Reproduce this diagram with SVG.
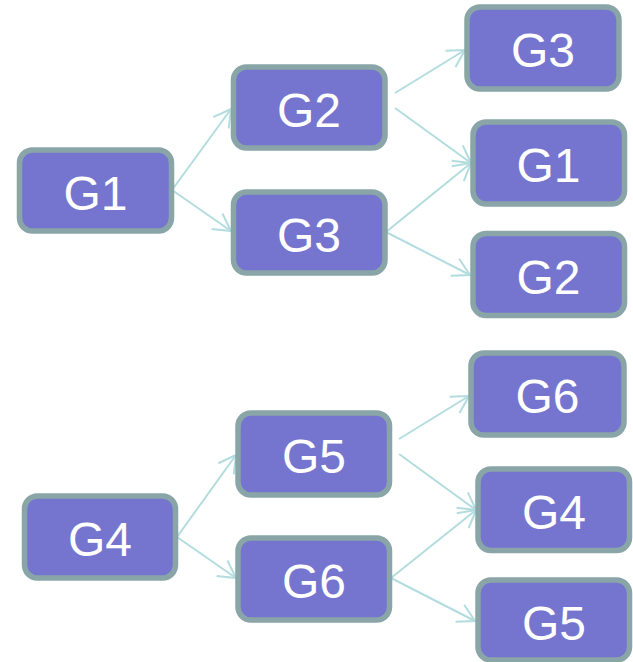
<svg xmlns="http://www.w3.org/2000/svg" width="633" height="662" viewBox="0 0 633 662">
<style>
.box{fill:#7575cf;stroke:#89a5a7;stroke-width:5.5}
.lbl{fill:#ffffff;font-family:"Liberation Sans",Arial,sans-serif;font-size:48px;text-anchor:middle}
.edge{fill:none;stroke:#b3dcdf;stroke-width:2;marker-end:url(#arr)}
</style>
<defs>
<marker id="arr" markerUnits="userSpaceOnUse" markerWidth="24" markerHeight="24" viewBox="-20 -12 24 24" refX="0" refY="0" orient="auto">
<path d="M-17,-9.5 L0,0 L-17,9.5" fill="none" stroke="#b3dcdf" stroke-width="2"/>
</marker>
</defs>
<rect width="633" height="662" fill="#ffffff"/>
<g id="connectors">
<line class="edge" x1="172" y1="190" x2="231" y2="109"/>
<line class="edge" x1="172" y1="190" x2="231" y2="231"/>
<line class="edge" x1="395" y1="93" x2="465" y2="50"/>
<line class="edge" x1="395" y1="108" x2="471" y2="163"/>
<line class="edge" x1="386" y1="232" x2="471" y2="163"/>
<line class="edge" x1="386" y1="232" x2="470" y2="275"/>
<line class="edge" x1="177" y1="537" x2="236" y2="455"/>
<line class="edge" x1="177" y1="537" x2="236" y2="578"/>
<line class="edge" x1="399" y1="439" x2="469" y2="396"/>
<line class="edge" x1="399" y1="454" x2="476" y2="510"/>
<line class="edge" x1="391" y1="578" x2="476" y2="510"/>
<line class="edge" x1="391" y1="578" x2="475" y2="621"/>
</g>
<g id="n_g1"><rect class="box" x="19.5" y="150" width="152" height="81" rx="13"/><text class="lbl" x="95.5" y="210">G1</text></g>
<g id="n_g2"><rect class="box" x="233.5" y="67" width="151.5" height="81" rx="13"/><text class="lbl" x="309" y="127">G2</text></g>
<g id="n_g3"><rect class="box" x="233.5" y="192" width="151.5" height="81" rx="13"/><text class="lbl" x="309" y="252">G3</text></g>
<g id="n_g3b"><rect class="box" x="467" y="7" width="152" height="82" rx="13"/><text class="lbl" x="543" y="67">G3</text></g>
<g id="n_g1b"><rect class="box" x="473" y="122" width="151.5" height="82" rx="13"/><text class="lbl" x="548.5" y="182">G1</text></g>
<g id="n_g2b"><rect class="box" x="473" y="233.5" width="151.5" height="82" rx="13"/><text class="lbl" x="548.5" y="293.5">G2</text></g>
<g id="n_g4"><rect class="box" x="24.5" y="496" width="151" height="82" rx="13"/><text class="lbl" x="100" y="556">G4</text></g>
<g id="n_g5"><rect class="box" x="238" y="413" width="151.5" height="82" rx="13"/><text class="lbl" x="314" y="473">G5</text></g>
<g id="n_g6"><rect class="box" x="238" y="538" width="151.5" height="82" rx="13"/><text class="lbl" x="314" y="598">G6</text></g>
<g id="n_g6b"><rect class="box" x="471" y="353" width="153" height="82" rx="13"/><text class="lbl" x="547.5" y="413">G6</text></g>
<g id="n_g4b"><rect class="box" x="478" y="469" width="151.5" height="81.5" rx="13"/><text class="lbl" x="554" y="529">G4</text></g>
<g id="n_g5b"><rect class="box" x="478" y="580" width="151.5" height="80" rx="13"/><text class="lbl" x="554" y="640">G5</text></g>
</svg>
